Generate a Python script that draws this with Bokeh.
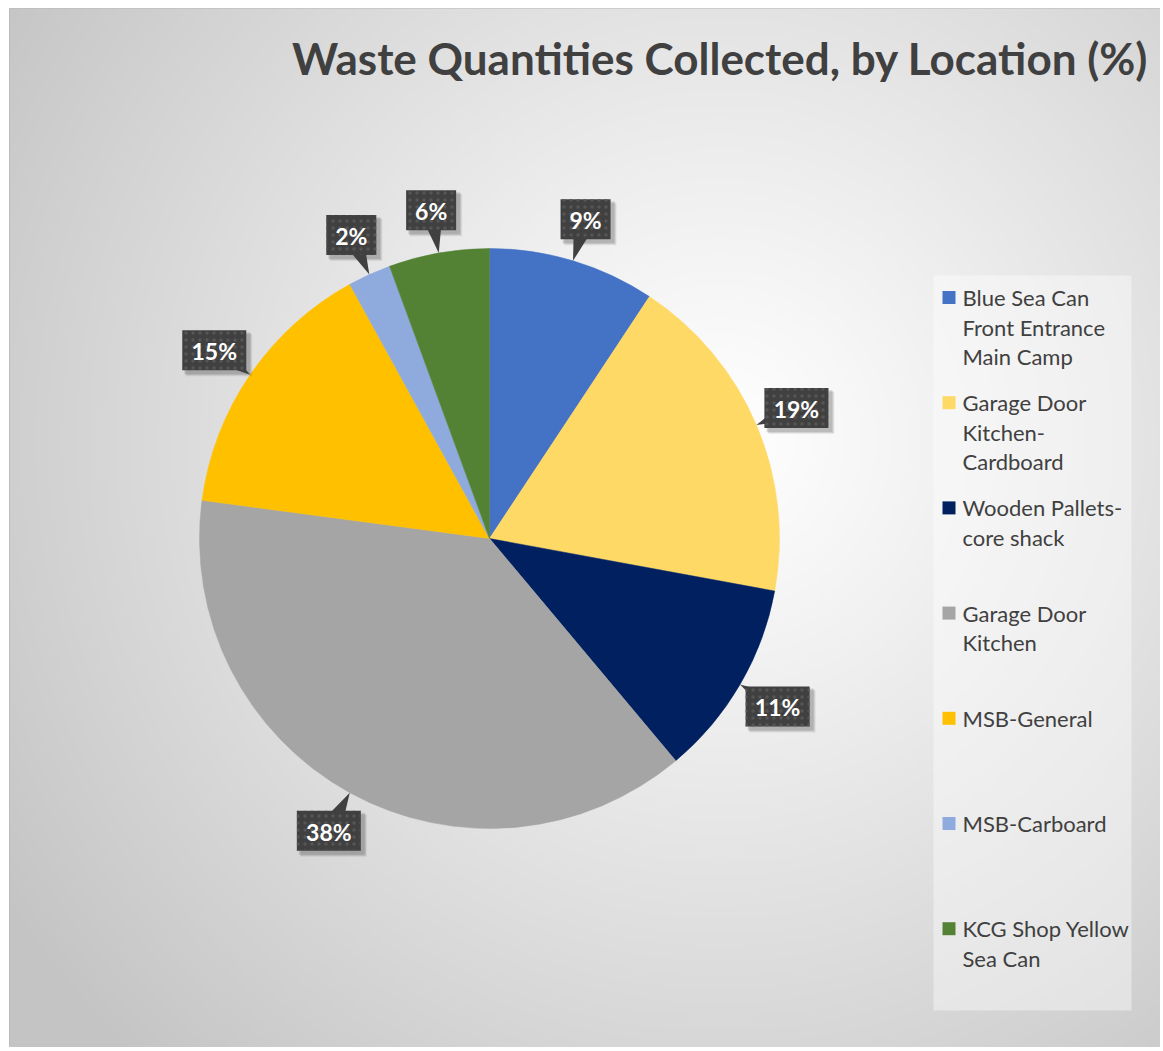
import numpy as np
from bokeh.plotting import figure
from bokeh.models import Range1d, ColumnDataSource
from bokeh.core.properties import value
from bokeh.embed import file_html
from bokeh.resources import INLINE

# ---- data ----
categories = [
    "Blue Sea Can\nFront Entrance\nMain Camp",
    "Garage Door\nKitchen-\nCardboard",
    "Wooden Pallets-\ncore shack",
    "Garage Door\nKitchen",
    "MSB-General",
    "MSB-Carboard",
    "KCG Shop Yellow\nSea Can",
]
shares = [9.3, 18.6, 11.0, 38.2, 14.9, 2.4, 5.6]
colors = ["#4472C4", "#FFD966", "#002060", "#A5A5A5", "#FFC000", "#8FAADC", "#548235"]
title_text = "Waste Quantities Collected, by Location (%)"

# ---- layout (data units = screen pixels, y = -row) ----
X0, Y0, X1, Y1 = 9, 8, 1160, 1047
FONT = "Lato"
TXT = "#404040"

p = figure(width=X1, height=Y1, output_backend="svg", toolbar_location=None,
           x_range=Range1d(X0, X1), y_range=Range1d(-Y1, -Y0),
           min_border_left=X0, min_border_top=Y0, min_border_right=0, min_border_bottom=0,
           outline_line_color="#b8b8b8", outline_line_width=1)
p.axis.visible = False
p.grid.visible = False
p.background_fill_color = "#d0d0d0"
p.border_fill_color = "#ffffff"

# background radial gradient (style only)
S = 3
gw, gh = (X1 - X0) // S + 1, (Y1 - Y0) // S + 1
gx = X0 + (np.arange(gw) + 0.5) * S
gy = -Y1 + (np.arange(gh) + 0.5) * S
XX, YY = np.meshgrid(gx, gy)
cxg, cyg = 720, -440
d = np.sqrt((XX - cxg) ** 2 + (YY - cyg) ** 2) / 860.0
d = np.clip(d, 0, 1)
lev = (255 - (255 - 196) * (d ** 1.1)).astype(np.uint32)
img = (np.uint32(255) << 24) | (lev << 16) | (lev << 8) | lev
p.image_rgba(image=[img.astype(np.uint32)], x=X0, y=-Y1, dw=gw * S, dh=gh * S)

# pie
cx, cy, R = 489, -538, 290
tot = float(sum(shares))
fr = np.array(shares) / tot
cum_end = np.cumsum(fr)
cum_start = cum_end - fr
start_ang = np.pi / 2 - 2 * np.pi * cum_end
end_ang = np.pi / 2 - 2 * np.pi * cum_start
src = ColumnDataSource(dict(s=start_ang, e=end_ang, c=colors))
p.wedge(x=cx, y=cy, radius=R, start_angle="s", end_angle="e", direction="anticlock",
        fill_color="c", line_color="c", line_width=0.5, source=src)

# data labels (callouts)
mid = 2 * np.pi * (cum_start + fr / 2)  # clockwise from top
labels = [f"{round(v / tot * 100)}%" for v in shares]
lr = 1.15 * R
lx = cx + lr * np.sin(mid)
ly = cy + lr * np.cos(mid)
tipx = cx + R * np.sin(mid)
tipy = cy + R * np.cos(mid)
bw = np.array([22 + 14 * len(t) for t in labels], dtype=float)
bh = 40.0

xs, ys = [], []
for i in range(len(labels)):
    dx, dy = tipx[i] - lx[i], tipy[i] - ly[i]
    n = np.hypot(dx, dy)
    px, py = -dy / n * 12, dx / n * 12
    xs.append([lx[i] + px, tipx[i], lx[i] - px])
    ys.append([ly[i] + py, tipy[i], ly[i] - py])

for k, a in [(5, 0.07), (4, 0.09), (3, 0.11)]:
    p.rect(x=lx + k, y=ly - k, width=bw + 2, height=bh + 2, fill_color="black",
           fill_alpha=a, line_color=None)
p.patches(xs=xs, ys=ys, fill_color="#404040", line_color=None)
p.rect(x=lx, y=ly, width=bw, height=bh, fill_color="#404040", line_color=None,
       hatch_pattern="dot", hatch_color="#555555", hatch_scale=7, hatch_weight=2)
p.text(x=lx, y=ly - 1, text=labels, text_color="white", text_font=value(FONT),
       text_font_style="bold", text_font_size="23px", text_align="center",
       text_baseline="middle")

# title
p.text(x=[1148], y=[-57], text=[title_text], text_color=TXT,
       text_font=value(FONT), text_font_style="bold", text_font_size="44px",
       text_align="right", text_baseline="alphabetic")

# legend
p.quad(left=933, right=1131, top=-275, bottom=-1010,
       fill_color="white", fill_alpha=0.4, line_color=None)
first_y = -297
gap = 105.2
line_h = 29.5
sqx, sqy, tx, ty, tt = [], [], [], [], []
for i, cat in enumerate(categories):
    yy = first_y - i * gap
    sqx.append(948.5)
    sqy.append(yy)
    for j, line in enumerate(cat.split("\n")):
        tx.append(962)
        ty.append(yy - j * line_h)
        tt.append(line)
p.rect(x=sqx, y=sqy, width=13, height=13, fill_color=colors, line_color=None)
p.text(x=tx, y=ty, text=tt, text_color=TXT, text_font=value(FONT),
       text_font_size="22px", text_align="left", text_baseline="middle")

open("out.html", "w").write(file_html(p, INLINE))
